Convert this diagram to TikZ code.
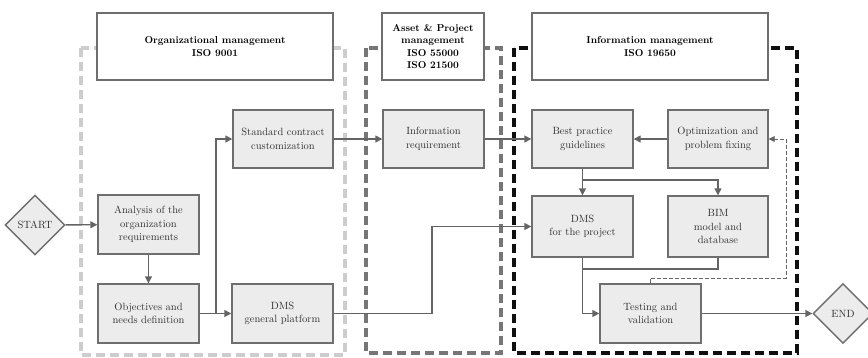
\documentclass[tikz,border=0pt]{standalone}
\usetikzlibrary{arrows.meta,shapes.geometric}
\definecolor{boxfill}{RGB}{236,236,236}
\definecolor{boxdraw}{RGB}{110,110,110}
\definecolor{linec}{RGB}{100,100,100}
\definecolor{dashlight}{RGB}{205,205,205}
\definecolor{dashmid}{RGB}{118,118,118}
\definecolor{dashdark}{RGB}{15,15,15}
\definecolor{textc}{RGB}{50,50,50}
\begin{document}
\begin{tikzpicture}[x=1pt,y=-1pt,
  proc/.style={draw=boxdraw,line width=1.4pt,fill=boxfill,align=center,text=textc,
    font=\fontsize{10.5}{13.5}\selectfont,inner sep=2pt},
  title/.style={draw=boxdraw,line width=1.6pt,fill=white,align=center,text=black,
    font=\fontsize{10}{12.5}\selectfont\bfseries,inner sep=2pt},
  term/.style={draw=boxdraw,line width=1.4pt,fill=boxfill,diamond,inner sep=0pt,
    minimum width=60pt,minimum height=60pt,text=textc,font=\fontsize{10.5}{13}\selectfont},
  region/.style={line width=3.2pt,dash pattern=on 9pt off 5pt},
  conn/.style={draw=linec,line width=1.4pt},
  arr/.style={conn,-{Triangle[length=7pt,width=7pt]}},
  fb/.style={draw=linec,line width=0.9pt,dash pattern=on 4pt off 2pt,-{Triangle[length=6pt,width=6pt]}}
]
\useasboundingbox (0,0) rectangle (868,357);
% regions
\draw[region,draw=dashlight] (81,48) rectangle (345,355);
\draw[region,draw=dashmid] (366,48) rectangle (501,353);
\draw[region,draw=dashdark] (514,48) rectangle (797,353);
% title boxes
\node[title,minimum width=236pt,minimum height=67pt] (torg) at (215,46.5) {Organizational management\\ISO 9001};
\node[title,minimum width=102pt,minimum height=67pt] (tasset) at (433,46.5) {Asset \& Project\\management\\ISO 55000\\ISO 21500};
\node[title,minimum width=236pt,minimum height=67pt] (tinfo) at (650,46.5) {Information management\\ISO 19650};
% process boxes
\node[term] (start) at (35,225) {START};
\node[term] (end) at (843,313.5) {END};
\node[proc,minimum width=101pt,minimum height=59pt] (analysis) at (148.5,224.5) {Analysis of the\\organization\\requirements};
\node[proc,minimum width=101pt,minimum height=59pt] (objectives) at (148.5,313.5) {Objectives and\\needs definition};
\node[proc,minimum width=100pt,minimum height=58pt] (stdcontract) at (283,139) {Standard contract\\customization};
\node[proc,minimum width=101pt,minimum height=59pt] (dmsgen) at (282.5,313.5) {DMS\\general platform};
\node[proc,minimum width=101pt,minimum height=58pt] (inforeq) at (433.5,139) {Information\\requirement};
\node[proc,minimum width=101pt,minimum height=58pt] (best) at (582.5,139) {Best practice\\guidelines};
\node[proc,minimum width=100pt,minimum height=58pt] (optim) at (718,139) {Optimization and\\problem fixing};
\node[proc,minimum width=101pt,minimum height=61pt] (dmsproj) at (582.5,226.5) {DMS\\for the project};
\node[proc,minimum width=100pt,minimum height=61pt] (bim) at (718,226.5) {BIM\\model and\\database};
\node[proc,minimum width=101pt,minimum height=59pt] (testing) at (650.5,313.5) {Testing and\\validation};
% junction coordinates
\coordinate (j1) at (216,313.5);
\coordinate (k1) at (432,313.5);
\coordinate (b1) at (582.5,180);
\coordinate (c1) at (582.5,269);
\coordinate (d1) at (786,278);
% connectors
\draw[arr] (start) -- (analysis);
\draw[arr] (analysis) -- (objectives);
\draw[arr] (objectives) -- (dmsgen);
\draw[arr] (j1) |- (stdcontract.west);
\draw[arr] (stdcontract) -- (inforeq);
\draw[arr] (inforeq) -- (best);
\draw[arr] (optim) -- (best);
\draw[arr] (dmsgen.east) -- (k1) |- (dmsproj.west);
\draw[arr] (best) -- (dmsproj);
\draw[arr] (b1) -| (bim.north);
\draw[arr] (dmsproj.south) |- (testing.west);
\draw[conn] (bim.south) |- (c1);
\draw[arr] (testing) -- (end);
\draw[fb] (testing.north) |- (d1) |- (optim.east);
\end{tikzpicture}
\end{document}
